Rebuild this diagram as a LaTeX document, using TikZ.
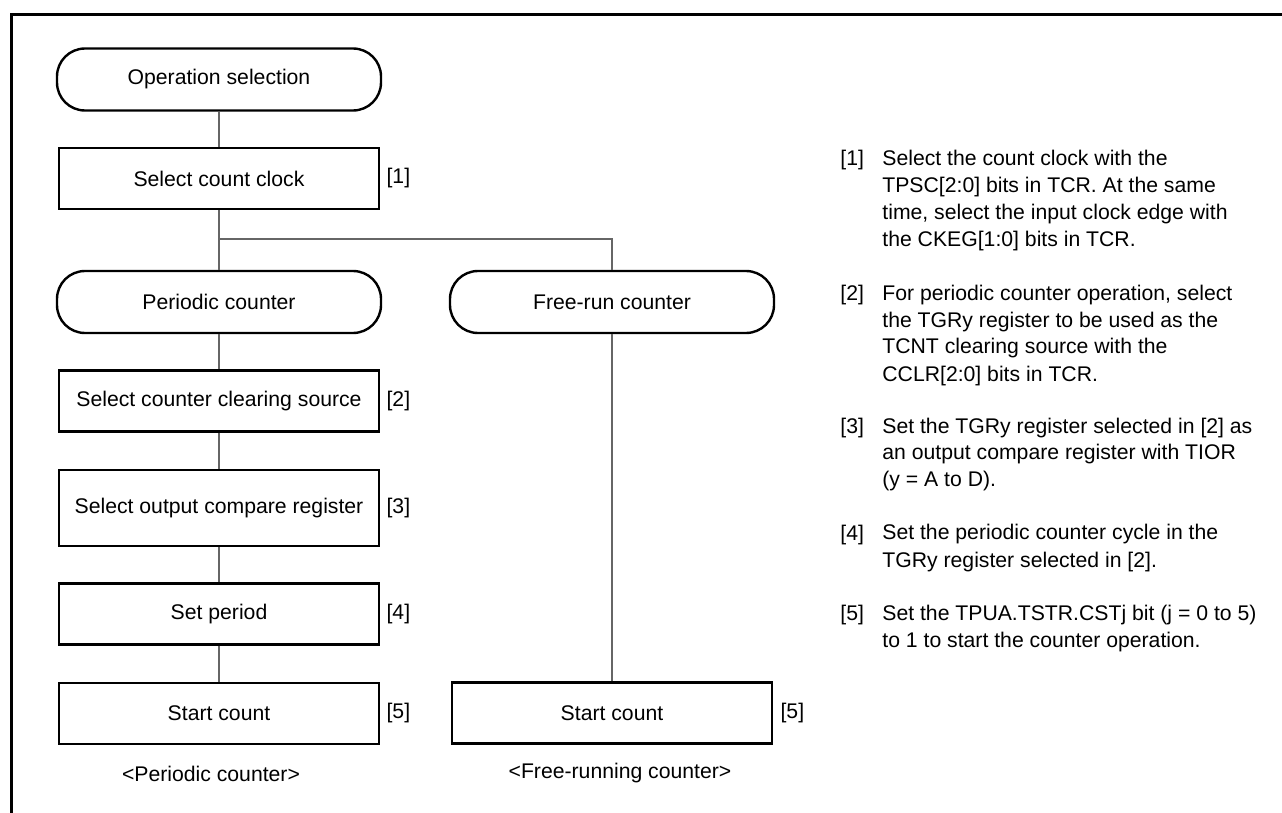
\documentclass[tikz,border=0pt]{standalone}
\usepackage{fontspec}
\setmainfont{Liberation Sans}
\usetikzlibrary{positioning}

\begin{document}
\begin{tikzpicture}[x=0.5pt,y=-0.5pt,
  every node/.style={font=\fontsize{10.6}{13.5}\selectfont},
  stepbox/.style={draw,line width=1.2pt,minimum width=160pt,minimum height=30.5pt,inner sep=0pt},
  termbox/.style={draw,line width=1.2pt,rounded corners=14pt,minimum width=162pt,minimum height=31pt,inner sep=0pt},
  tag/.style={inner sep=0pt},
  link/.style={draw=black!60,line width=0.6pt},
  note/.style={anchor=base west,inner sep=0pt,align=left}]
\useasboundingbox (0,0) rectangle (1282,813);
% frame
\draw[line width=1.6pt] (11.5,830) -- (11.5,14.5) -- (1300,14.5);

% periodic column
\node[termbox] (opsel) at (219,79.5) {Operation selection};
\node[stepbox] (clock) at (219,178.5) {Select count clock};
\node[termbox] (periodic) at (219,302) {Periodic counter};
\node[stepbox] (clearsrc) at (219,401) {Select counter clearing source};
\node[stepbox,minimum height=38pt] (cmpreg) at (219,508) {Select output compare register};
\node[stepbox] (period) at (219,614) {Set period};
\node[stepbox] (startP) at (219,713.5) {Start count};
\node (capP) at (211,774) {<Periodic counter>};

% free-running column
\node[termbox] (freerun) at (612,302) {Free-run counter};
\node[stepbox] (startF) at (612,713) {Start count};
\node (capF) at (620,773) {<Free-running counter>};

\node[tag,right=3pt of clock] (t1) {[1]};
\node[tag,right=3pt of clearsrc] (t2) {[2]};
\node[tag,right=3pt of cmpreg] (t3) {[3]};
\node[tag,right=3pt of period] (t4) {[4]};
\node[tag,right=3pt of startP] (t5) {[5]};
\node[tag,right=3.5pt of startF] (t5f) {[5]};

\coordinate (branch) at (219,239);
\draw[link] (opsel) -- (clock);
\draw[link] (clock) -- (periodic);
\draw[link] (branch) -| (freerun);
\draw[link] (periodic) -- (clearsrc);
\draw[link] (clearsrc) -- (cmpreg);
\draw[link] (cmpreg) -- (period);
\draw[link] (period) -- (startP);
\draw[link] (freerun) -- (startF);

% notes (base = last line)
\node[note] (n1) at (840,166) {[1]};
\node[note] (d1) at (882,247) {Select the count clock with the\\TPSC[2:0] bits in TCR. At the same\\time, select the input clock edge with\\the CKEG[1:0] bits in TCR.};
\node[note] (n2) at (840,300) {[2]};
\node[note] (d2) at (882,381) {For periodic counter operation, select\\the TGRy register to be used as the\\TCNT clearing source with the\\CCLR[2:0] bits in TCR.};
\node[note] (n3) at (840,433) {[3]};
\node[note] (d3) at (882,487) {Set the TGRy register selected in [2] as\\an output compare register with TIOR\\(y = A to D).};
\node[note] (n4) at (840,540) {[4]};
\node[note] (d4) at (882,567) {Set the periodic counter cycle in the\\TGRy register selected in [2].};
\node[note] (n5) at (840,620) {[5]};
\node[note] (d5) at (882,647) {Set the TPUA.TSTR.CSTj bit (j = 0 to 5)\\to 1 to start the counter operation.};
\end{tikzpicture}
\end{document}
